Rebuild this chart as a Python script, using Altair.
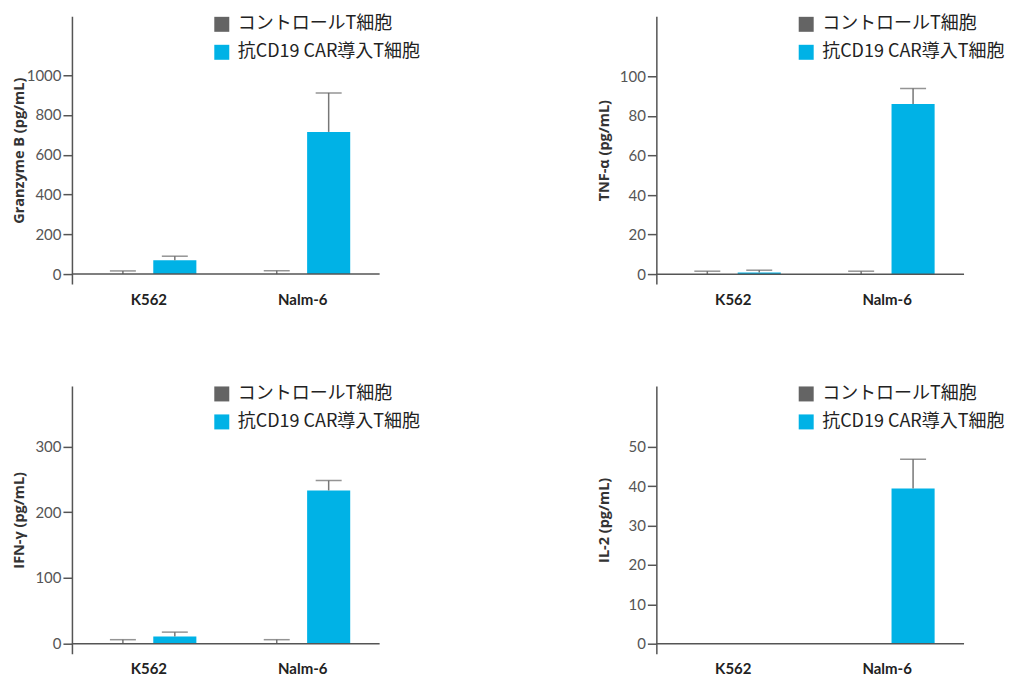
import altair as alt
import pandas as pd

# ---- data ----
targets = ["K562", "Nalm-6"]
groups = ["コントロールT細胞", "抗CD19 CAR導入T細胞"]
group_colors = ["#646464", "#00B2E6"]

titles = ["Granzyme B (pg/mL)", "TNF-α (pg/mL)", "IFN-γ (pg/mL)", "IL-2 (pg/mL)"]

# order: control K562, CAR K562, control Nalm-6, CAR Nalm-6
granzyme_mean = [0, 70, 0, 715]
granzyme_err = [16, 20, 17, 196]
tnf_mean = [0, 0.8, 0, 86]
tnf_err = [1.5, 1.2, 1.5, 7.8]
ifn_mean = [0, 11, 0, 233]
ifn_err = [6, 6.5, 6, 15]
il2_mean = [0, 0, 0, 39.4]
il2_err = [0, 0, 0, 7.4]

y_ticks = [
    [0, 200, 400, 600, 800, 1000],
    [0, 20, 40, 60, 80, 100],
    [0, 100, 200, 300],
    [0, 10, 20, 30, 40, 50],
]
y_domains = [[-50, 1296], [-5, 130.3], [-15.3, 392], [-2.5, 65.4]]

means = [granzyme_mean, tnf_mean, ifn_mean, il2_mean]
errs = [granzyme_err, tnf_err, ifn_err, il2_err]

W = 308
H = 268
AXIS_COLOR = "#555555"


def panel(i):
    rows_t = [targets[0], targets[0], targets[1], targets[1]]
    rows_g = [groups[0], groups[1], groups[0], groups[1]]
    df = pd.DataFrame({
        "target": rows_t,
        "group": rows_g,
        "value": means[i],
        "upper": [m + e for m, e in zip(means[i], errs[i])],
    })
    base = alt.Chart(df)
    x = alt.X(
        "target:N",
        scale=alt.Scale(domain=targets, paddingInner=0.325, paddingOuter=0.1625),
        axis=alt.Axis(
            title=None, labelAngle=0, ticks=False, domain=False,
            labelFont="Lato", labelFontSize=15, labelFontWeight="bold",
            labelColor="#222222", labelPadding=8,
        ),
    )
    xo = alt.XOffset(
        "group:N",
        scale=alt.Scale(domain=groups, paddingInner=0.17, paddingOuter=0.085),
    )
    yscale = alt.Scale(domain=y_domains[i], nice=False, zero=False)
    y = alt.Y(
        "value:Q",
        scale=yscale,
        axis=alt.Axis(
            values=y_ticks[i], format="d", title=titles[i], grid=False,
            titleX=-45, titleY=H / 2, titleFont="Open Sans", titleFontSize=14.5,
            titleFontWeight="bold", titleColor="#333333",
            labelFont="Lato", labelFontSize=15, labelColor="#555555",
            labelPadding=2, tickSize=9, tickColor=AXIS_COLOR, tickWidth=1.5,
            domainColor=AXIS_COLOR, domainWidth=1.5,
        ),
    )
    bars = base.mark_bar().encode(
        x=x, xOffset=xo, y=y,
        color=alt.Color(
            "group:N",
            scale=alt.Scale(domain=groups, range=group_colors),
            legend=alt.Legend(
                title=None, orient="none", legendX=141, legendY=-1,
                direction="vertical", symbolType="square", symbolSize=225,
                symbolStrokeWidth=0, labelFont="Noto Sans CJK JP",
                labelFontSize=18, labelColor="#222222", rowPadding=10,
                labelOffset=7, labelLimit=0,
            ),
        ),
    )
    err_base = base.transform_filter("datum.upper > datum.value")
    rules = err_base.mark_rule(color="#777777", strokeWidth=1.5).encode(
        x=x, xOffset=xo, y=alt.Y("value:Q", scale=yscale), y2="upper:Q"
    )
    caps = err_base.mark_tick(color="#666666", size=26, thickness=1.5).encode(
        x=x, xOffset=xo, y=alt.Y("upper:Q", scale=yscale)
    )
    baseline = alt.Chart(pd.DataFrame({"zero": [0]})).mark_rule(
        color=AXIS_COLOR, strokeWidth=1.5
    ).encode(y=alt.Y("zero:Q", scale=yscale), x=alt.value(0), x2=alt.value(W))
    return alt.layer(bars, rules, caps, baseline).properties(width=W, height=H)


chart = (
    alt.concat(panel(0), panel(1), panel(2), panel(3), columns=2,
               spacing={"row": 102, "column": 277}, bounds="flush")
    .resolve_scale(x="independent", y="independent", color="independent")
    .resolve_legend(color="independent")
    .configure_view(stroke=None)
    .properties(padding={"left": 3, "top": 7, "right": 0, "bottom": 0})
)

chart.save("out.html", embed_options={"renderer": "svg", "actions": False})
